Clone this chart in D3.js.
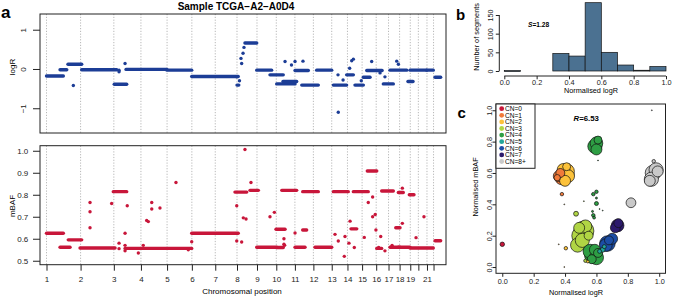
<!DOCTYPE html>
<html>
<head>
<meta charset="utf-8">
<script src="https://cdn.jsdelivr.net/npm/d3@7"></script>
<style>
body { margin: 0; background: #fff; }
svg { display: block; font-family: "Liberation Sans", Arial, sans-serif; }
.vline { stroke: #9a9a9a; stroke-width: 0.7; stroke-dasharray: 1.2,1.6; }
.box { fill: none; stroke: #222; stroke-width: 1; }
.tick line { stroke: #222; }
</style>
</head>
<body>
<script>
// chromosome sizes (Mb) and the tick labels that R kept
const chromLen = [249,243,198,191,181,171,159,146,141,136,135,134,115,107,103,90,81,78,59,63,48,51];
const chromLabels = ["1","2","3","4","5","6","7","8","9","10","11","12","13","14","15","16","17","18","19","","21",""];

// logR segments: [start Mb, end Mb, logR] (genome coordinates)
const logrSegs = [
  [0,123,-0.18],[99,148,-0.02],[157,257,0.12],[257,513,-0.02],[495,586,-0.39],
  [581,880,-0.01],[880,1061,-0.03],[1061,1401,-0.19],[1392,1405,-0.41],[1450,1536,0.66],
  [1536,1645,-0.03],[1633,1730,-0.15],[1682,1816,-0.38],[1728,1828,-0.32],[1816,1913,-0.04],
  [1865,1986,-0.41],[1974,2084,-0.03],[2096,2193,-0.41],[2193,2242,-0.15],[2254,2315,-0.41],
  [2315,2364,-0.21],[2340,2413,-0.04],[2413,2452,-0.04],[2461,2534,-0.38],[2510,2632,-0.03],
  [2641,2678,-0.32],[2656,2778,-0.03],[2778,2826,-0.03],[2839,2880,-0.21]
];
// single logR points: [Mb, logR]
const logrPts = [
  [196,-0.42],[574,0.14],[530,-0.03],[530,-0.07],[1390,-0.2],[1426,0.14],[1421,0.27],
  [1436,0.4],[1410,-0.3],[1443,0.55],[1743,0.19],[1816,0.19],[1874,0.2],[1790,0.1],
  [2132,-1.1],[2130,-0.15],[2167,-0.28],[2230,0.21],[2242,0.25],[2376,0.19],
  [2437,-0.1],[2473,-0.2],[2559,0.2],[2571,0.12],[2215,0.02],[2300,-0.3]
];

// mBAF segments: [start Mb, end Mb, mBAF]
const bafSegs = [
  [0,123,0.625],[99,172,0.561],[159,257,0.595],[245,501,0.558],[488,586,0.814],
  [574,1061,0.556],[1061,1401,0.625],[1377,1463,0.812],[1487,1548,0.82],[1536,1682,0.561],
  [1677,1743,0.643],[1682,1730,0.56],[1719,1828,0.82],[1816,1889,0.561],[1872,1901,0.64],
  [1872,1986,0.814],[1962,2084,0.561],[2096,2205,0.814],[2225,2267,0.645],[2242,2351,0.814],
  [2344,2413,0.908],[2413,2449,0.556],[2449,2534,0.817],[2510,2583,0.561],[2552,2583,0.65],
  [2571,2607,0.81],[2571,2656,0.561],[2651,2685,0.8],[2656,2826,0.558],[2839,2880,0.591]
];
// single mBAF points: [Mb, mBAF]
const bafPts = [
  [318,0.765],[318,0.723],[318,0.65],[476,0.76],[530,0.58],[530,0.555],[574,0.625],
  [574,0.57],[574,0.545],[590,0.75],[671,0.535],[707,0.57],[732,0.683],[744,0.678],
  [769,0.765],[769,0.735],[829,0.74],[946,0.856],[1061,0.586],[1036,0.55],[1390,0.75],
  [1390,0.59],[1426,0.585],[1450,1.006],[1438,0.695],[1458,0.69],[1494,0.856],[1633,0.7],
  [1665,0.72],[1735,0.6],[1735,0.575],[1740,0.57],[1816,0.626],[2108,0.62],[2132,0.59],
  [2176,0.52],[2181,0.61],[2210,0.58],[2218,0.68],[2249,0.56],[2322,0.606],[2383,0.79],
  [2351,0.765],[2383,0.7],[2402,0.71],[2407,0.64],[2442,0.61],[2427,0.56],[2473,0.545],
  [2525,0.57],[2600,0.83],[2600,0.67],[2700,0.605],[2758,0.7]
];

// histogram of normalised logR
const histEdges = [0,0.1,0.2,0.3,0.4,0.5,0.6,0.7,0.8,0.9,1.0];
const histCounts = [1,0,0,47,40,183,50,16,2,12];

// copy number legend
const cnLabels = ["CN=0","CN=1","CN=2","CN=3","CN=4","CN=5","CN=6","CN=7","CN=8+"];
const cnColors = ["#c8163a","#f07a3a","#fcc23a","#b0d544","#2e9e44","#22a59a","#1c4ea6","#2c1a6c","#c9c9c9"];

// segments in panel c: [normalised logR, normalised mBAF, size, copy number]
const cnPts = [
  [0.40,0.59,40,2],[0.41,0.61,30,2],[0.38,0.57,25,1],[0.36,0.58,15,1],[0.39,0.62,20,2],
  [0.42,0.58,20,2],[0.40,0.55,15,2],[0.37,0.60,10,1],[0.41,0.64,8,2],[0.35,0.57,5,1],
  [0.60,0.79,20,4],[0.59,0.77,25,4],[0.61,0.81,8,4],[0.60,0.75,15,4],
  [0.96,0.60,30,8],[0.98,0.62,25,8],[0.95,0.56,25,8],[0.94,0.55,15,8],[0.99,0.61,15,8],
  [0.82,0.41,12,8],[0.965,0.675,1.5,8],
  [0.735,0.265,20,7],[0.72,0.25,12,7],[0.74,0.28,10,7],
  [0.67,0.15,30,6],[0.66,0.14,20,6],[0.70,0.18,15,6],[0.68,0.17,10,6],
  [0.64,0.11,3,5],[0.62,0.10,2,5],[0.65,0.13,2,5],
  [0.52,0.23,50,3],[0.50,0.20,40,3],[0.48,0.14,25,3],[0.53,0.26,20,3],[0.51,0.17,25,3],
  [0.49,0.25,15,3],[0.47,0.34,3,3],[0.55,0.20,10,3],
  [0.58,0.08,40,4],[0.56,0.10,25,4],[0.60,0.06,25,4],[0.59,0.11,15,4],[0.57,0.05,10,4],[0.61,0.09,10,4],
  [0.60,0.48,1.5,4],[0.58,0.465,1.5,4],[0.60,0.44,0.5,4],[0.60,0.405,2,4],[0.58,0.33,1.5,4],
  [0.585,0.315,1,4],[0.575,0.355,0.5,4],[0.53,0.04,1.5,3],[0.545,0.035,1,2],
  [0.38,0.465,1.5,1],[0.0,0.145,2.5,0],[0.405,0.12,1.5,2],
  [0.395,0.40,0.1,2],[0.36,0.145,0.1,2],[0.395,0.0,0.1,2],[0.953,1.0,0.1,8],
  [0.64,0.36,0.1,4],[0.52,0.42,0.1,3],[0.62,0.37,0.1,4],[0.61,0.68,0.1,4]
];

const W = 675, H = 298;
const svg = d3.select("body").append("svg").attr("width", W).attr("height", H);

const chromStart = [0].concat(Array.from(d3.cumsum(chromLen))).slice(0, chromLen.length);

// ---------- panel a ----------
const x = d3.scaleLinear().domain([-47.5, 2919]).range([40, 446]);
const yR = d3.scaleLinear().domain([-1.63, 1.40]).range([133, 14]);
const yB = d3.scaleLinear().domain([0.482, 1.023]).range([264.7, 145.7]);

function genomePanel(y, segs, pts, color) {
  const [bot, top] = y.range();
  const g = svg.append("g");
  g.selectAll(".vline").data(chromStart).join("line")
    .attr("class", "vline")
    .attr("x1", d => x(d)).attr("x2", d => x(d))
    .attr("y1", top).attr("y2", bot);
  g.selectAll(".seg").data(segs).join("line")
    .attr("class", "seg")
    .attr("x1", d => x(d[0])).attr("x2", d => x(d[1]))
    .attr("y1", d => y(d[2])).attr("y2", d => y(d[2]))
    .attr("stroke", color).attr("stroke-width", 3.4).attr("stroke-linecap", "round");
  g.selectAll(".pt").data(pts).join("circle")
    .attr("class", "pt")
    .attr("cx", d => x(d[0])).attr("cy", d => y(d[1]))
    .attr("r", 1.7).attr("fill", color);
  g.append("rect").attr("class", "box")
    .attr("x", 40).attr("y", top).attr("width", 406).attr("height", bot - top);
  return g;
}

genomePanel(yR, logrSegs, logrPts, "#1c3d96");
genomePanel(yB, bafSegs, bafPts, "#c8163a");

// logR axis (rotated labels)
const axR = svg.append("g").attr("transform", "translate(40,0)")
  .call(d3.axisLeft(yR).tickValues([-1, 0, 1]).tickSize(7).tickSizeOuter(0).tickFormat(d3.format("d")));
axR.select(".domain").remove();
axR.selectAll(".tick text")
  .attr("transform", "rotate(-90)").attr("x", 0).attr("y", -14.4).attr("dy", 0)
  .attr("text-anchor", "middle").attr("font-size", 8).attr("fill", "#222");

// mBAF axis
const axB = svg.append("g").attr("transform", "translate(40,0)")
  .call(d3.axisLeft(yB).tickValues([0.5,0.6,0.7,0.8,0.9,1.0]).tickSize(7).tickPadding(4.7).tickFormat(d3.format(".1f")));
axB.select(".domain").remove();
axB.selectAll(".tick text").attr("font-size", 8).attr("fill", "#222");

// chromosome axis
const axX = svg.append("g").attr("transform", "translate(0,264.7)")
  .call(d3.axisBottom(x).tickValues(chromStart).tickSize(6).tickFormat((d, i) => chromLabels[i]));
axX.select(".domain").remove();
axX.selectAll(".tick text").attr("y", 17.3).attr("dy", 0).attr("font-size", 8).attr("fill", "#222");

svg.append("text").attr("x", 236).attr("y", 9.5).attr("text-anchor", "middle")
  .attr("font-size", 10).attr("font-weight", "bold").text("Sample TCGA\u2212A2\u2212A0D4");
svg.append("text").attr("transform", "translate(14.5,67) rotate(-90)").attr("text-anchor", "middle")
  .attr("font-size", 8).text("logR");
svg.append("text").attr("transform", "translate(14.5,206) rotate(-90)").attr("text-anchor", "middle")
  .attr("font-size", 8).text("mBAF");
svg.append("text").attr("x", 242).attr("y", 294).attr("text-anchor", "middle")
  .attr("font-size", 8).text("Chromosomal position");

// ---------- panel b ----------
const xH = d3.scaleLinear().domain([0, 1]).range([504.3, 666]);
const yH = d3.scaleLinear().domain([0, 150]).range([71, 15]);
const bins = histCounts.map((c, i) => ({ x0: histEdges[i], x1: histEdges[i + 1], n: c })).filter(d => d.n > 0);

svg.append("g").selectAll("rect").data(bins).join("rect")
  .attr("x", d => xH(d.x0)).attr("width", d => xH(d.x1) - xH(d.x0))
  .attr("y", d => yH(d.n)).attr("height", d => Math.max(0.8, yH(0) - yH(d.n)))
  .attr("fill", "#4b7191").attr("stroke", "#111").attr("stroke-width", 0.7);

const axHx = svg.append("g").attr("transform", "translate(0,76)")
  .call(d3.axisBottom(xH).tickValues([0,0.2,0.4,0.6,0.8,1.0]).tickSize(3.3).tickSizeOuter(0).tickFormat(d3.format(".1f")));
axHx.select(".domain").attr("d", `M${xH(0)},0H${xH(1)}`).attr("stroke", "#222");
axHx.selectAll(".tick text").attr("y", 8.6).attr("dy", 0).attr("font-size", 7.3).attr("fill", "#222");

const axHy = svg.append("g").attr("transform", "translate(499.3,0)")
  .call(d3.axisLeft(yH).tickValues([0,50,100,150]).tickSize(3.5).tickSizeOuter(0));
axHy.select(".domain").attr("d", `M0,${yH(0)}V${yH(150)}`).attr("stroke", "#222");
axHy.selectAll(".tick text")
  .attr("transform", "rotate(-90)").attr("x", 0).attr("y", -6.3).attr("dy", 0)
  .attr("text-anchor", "middle").attr("font-size", 7.3).attr("fill", "#222");

svg.append("text").attr("x", 591).attr("y", 93).attr("text-anchor", "middle")
  .attr("font-size", 7.3).text("Normalised logR");
svg.append("text").attr("transform", "translate(479,37) rotate(-90)").attr("text-anchor", "middle")
  .attr("font-size", 7.3).text("Number of segments");
const sTxt = svg.append("text").attr("x", 528).attr("y", 27).attr("font-size", 6.6).attr("font-weight", "bold");
sTxt.append("tspan").attr("font-style", "italic").text("S");
sTxt.append("tspan").text("=1.28");

// ---------- panel c ----------
const xC = d3.scaleLinear().domain([-0.04, 1.04]).range([496, 665.5]);
const yC = d3.scaleLinear().domain([-0.04, 1.04]).range([273.3, 104]);
const rC = d3.scaleSqrt().domain([0, 50]).range([0, 10]);

svg.append("g").selectAll("circle")
  .data(cnPts.slice().sort((a, b) => b[2] - a[2])).join("circle")
  .attr("cx", d => xC(d[0])).attr("cy", d => yC(d[1]))
  .attr("r", d => rC(d[2]))
  .attr("fill", d => cnColors[d[3]]).attr("stroke", "#111").attr("stroke-width", 0.7);

svg.append("rect").attr("class", "box")
  .attr("x", 496).attr("y", 104).attr("width", 169.5).attr("height", 169.3);

const axCx = svg.append("g").attr("transform", "translate(0,273.3)")
  .call(d3.axisBottom(xC).tickValues([0,0.2,0.4,0.6,0.8,1.0]).tickSize(3.5).tickFormat(d3.format(".1f")));
axCx.select(".domain").remove();
axCx.selectAll(".tick text").attr("y", 11.2).attr("dy", 0).attr("font-size", 7.3).attr("fill", "#222");

const axCy = svg.append("g").attr("transform", "translate(496,0)")
  .call(d3.axisLeft(yC).tickValues([0,0.2,0.4,0.6,0.8,1.0]).tickSize(3.5).tickFormat(d3.format(".1f")));
axCy.select(".domain").remove();
axCy.selectAll(".tick text")
  .attr("transform", "rotate(-90)").attr("x", 0).attr("y", -4.5).attr("dy", 0)
  .attr("text-anchor", "middle").attr("font-size", 7.3).attr("fill", "#222");

svg.append("text").attr("x", 576).attr("y", 295).attr("text-anchor", "middle")
  .attr("font-size", 7.3).text("Normalised logR");
svg.append("text").attr("transform", "translate(478,187) rotate(-90)").attr("text-anchor", "middle")
  .attr("font-size", 7.3).text("Normalised mBAF");
const rTxt = svg.append("text").attr("x", 573.5).attr("y", 121).attr("font-size", 7.8).attr("font-weight", "bold");
rTxt.append("tspan").attr("font-style", "italic").text("R");
rTxt.append("tspan").text("=6.53");

// legend
const leg = svg.append("g");
leg.append("rect").attr("x", 496).attr("y", 104).attr("width", 39).attr("height", 64.3)
  .attr("fill", "#fff").attr("stroke", "#222").attr("stroke-width", 1);
cnLabels.forEach((lab, i) => {
  const yy = 108.7 + i * 6.6;
  leg.append("circle").attr("cx", 501.7).attr("cy", yy).attr("r", 2.4).attr("fill", cnColors[i]);
  leg.append("text").attr("x", 505).attr("y", yy + 2.3).attr("font-size", 6.6).text(lab);
});

// panel letters
svg.append("text").attr("x", 1).attr("y", 18).attr("font-size", 17).attr("font-weight", "bold").text("a");
svg.append("text").attr("x", 456).attr("y", 20).attr("font-size", 15).attr("font-weight", "bold").text("b");
svg.append("text").attr("x", 457.5).attr("y", 118).attr("font-size", 15).attr("font-weight", "bold").text("c");
</script>
</body>
</html>
